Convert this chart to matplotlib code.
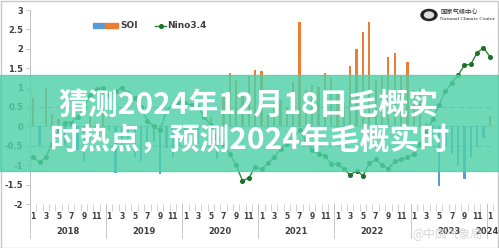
import numpy as np
import matplotlib
matplotlib.use("Agg")
import matplotlib.pyplot as plt
from matplotlib.patches import Rectangle, Ellipse
from matplotlib.lines import Line2D

plt.rcParams['font.family'] = ['Noto Sans CJK SC', 'DejaVu Sans']

years = [2018, 2019, 2020, 2021, 2022, 2023, 2024]
month_labels = ["1", "", "3", "", "5", "", "7", "", "9", "", "11", ""]

# monthly SOI, 2018-01 .. 2024-01
soi = [
    0.72, -0.50, 0.98, 0.33, 0.20, -0.50, 0.15, -0.60, -0.90, 0.25, -0.10, 0.85,
    -0.10, -1.20, -0.60, -0.40, -0.80, -0.90, -0.50, -0.40, -1.22, -0.55, -0.80, -0.50,
    -0.15, -0.20, -0.45, 0.05, 0.25, -0.85, 0.85, 1.38, 1.19, 0.85, 1.30, 1.45,
    1.42, 0.30, 0.60, 0.67, 0.47, 1.15, 2.68, 0.93, 1.06, 1.02, 1.37, 1.24,
    0.88, 0.60, 1.55, 2.00, 2.43, 2.70, 1.19, 1.30, 1.78, 1.90, 1.30, 1.65,
    0.95, 1.00, 0.10, -0.20, -1.53, -0.54, -0.70, -1.00, -1.35, -0.80, -0.50, -0.30,
    0.28,
]

# monthly Nino3.4 index
nino34 = [
    -0.78, -0.93, -0.78, -0.45, -0.10, 0.10, 0.10, 0.25, 0.50, 0.80, 0.97, 1.00,
    0.80, 0.90, 1.00, 0.85, 0.72, 0.50, 0.15, 0.00, -0.10, 0.40, 0.55, 0.60,
    0.60, 0.55, 0.50, 0.24, 0.03, -0.30, -0.45, -0.70, -1.00, -1.40, -1.33, -1.05,
    -1.10, -0.95, -0.80, -0.58, -0.45, -0.30, -0.10, -0.35, -0.62, -0.70, -0.75, -0.97,
    -0.97, -1.10, -1.25, -1.14, -1.27, -0.95, -0.85, -1.00, -1.09, -0.90, -0.85, -0.80,
    -0.70, -0.45, -0.15, 0.20, 0.55, 0.91, 1.12, 1.32, 1.58, 1.60, 1.90, 2.03,
    1.80,
]

n = len(soi)
x = np.arange(n)
W, H = 499, 248

fig = plt.figure(figsize=(W / 100, H / 100), dpi=100)
fig.patch.set_facecolor("white")
ax = fig.add_axes([30 / W, 1 - 204 / H, 463 / W, 194 / H])

bar_colors = ["#ed7d31" if v >= 0 else "#5b9bd5" for v in soi]
ax.bar(x, soi, width=0.36, color=bar_colors, zorder=2)
ax.plot(x, nino34, color="#2a8a37", lw=1.0, marker="o", ms=2.6,
        mfc="#1f6e2a", mec="#1f6e2a", zorder=3)

ax.axhline(0, color="#bfbfbf", lw=0.7, zorder=1)
for lvl in (0.5, -0.5):
    ax.axhline(lvl, color="#a6a6a6", lw=0.7, ls=(0, (5, 4)), zorder=1)

ax.set_xlim(-0.5, n - 0.5)
ax.set_ylim(-2, 3)
yt = np.arange(-2, 3.01, 0.5)
ax.set_yticks(yt)
ax.set_yticklabels([f"{v:g}" for v in yt], fontsize=6, color="#404040",
                   fontweight="bold", family="DejaVu Sans")
ax.tick_params(axis="y", length=3, width=0.6, color="#bfbfbf", pad=2)

for s in ("top", "right", "bottom"):
    ax.spines[s].set_visible(False)
ax.spines["left"].set_color("#bfbfbf")
ax.spines["left"].set_linewidth(0.7)

# month ticks and labels (two-level category axis)
ax.set_xticks(np.arange(-0.5, n, 1), minor=True)
ax.tick_params(axis="x", which="minor", length=5, width=0.5, color="#c0c0c0")
ax.set_xticks(x)
ax.set_xticklabels([month_labels[i % 12] for i in x], fontsize=5.5,
                   color="#404040", fontweight="bold", family="DejaVu Sans")
ax.tick_params(axis="x", which="major", length=0, pad=6)

ax_h = 194
for k, yr in enumerate(years):
    xb = -0.5 + 12 * k
    ax.axvline(xb, ymin=-34 / ax_h, ymax=0, color="#bfbfbf", lw=0.6, clip_on=False)
    xc = xb + 6 if yr != 2024 else 71.6
    ax.text(xc, -2.72, str(yr), ha="center", va="center", fontsize=6,
            fontweight="bold", color="#404040", family="DejaVu Sans")

# legend
fig.add_artist(Rectangle((93 / W, 1 - 28 / H), 12 / W, 5 / H, color="#5b9bd5"))
fig.add_artist(Rectangle((105 / W, 1 - 28 / H), 13 / W, 5 / H, color="#ed7d31"))
fig.text(120 / W, 1 - 25.5 / H, "SOI", fontsize=6.5, color="#404040",
         va="center", family="DejaVu Sans", fontweight="bold")
fig.add_artist(Line2D([155 / W, 166 / W], [1 - 25.5 / H] * 2, color="#2a8a37", lw=1.0))
fig.add_artist(Line2D([160.5 / W], [1 - 25.5 / H], marker="o", ms=2.6, color="#1f6e2a"))
fig.text(167 / W, 1 - 25.5 / H, "Nino3.4", fontsize=6.5, color="#404040",
         va="center", family="DejaVu Sans", fontweight="bold")

# logo
fig.add_artist(Ellipse((429 / W, 1 - 15 / H), 16 / W, 11 / H, color="#222222"))
fig.add_artist(Ellipse((429 / W, 1 - 15 / H), 9 / W, 6 / H, color="#dddddd"))
fig.text(440 / W, 1 - 11.5 / H, "国家气候中心", fontsize=4.5, color="#222222", va="center")
fig.text(440 / W, 1 - 19.5 / H, "National Climate Center", fontsize=3.2,
         color="#222222", va="center", family="DejaVu Serif")

# translucent banner with headline
fig.add_artist(Rectangle((0, 1 - 171 / H), 1, 96 / H, color="#4fd0a8", alpha=0.82, zorder=5))
fig.text(58 / W, 1 - 105 / H, "猜测2024年12月18日毛概实", fontsize=21.5, color="white",
         fontweight="bold", va="center", zorder=6)
fig.text(50 / W, 1 - 140 / H, "时热点，预测2024年毛概实时", fontsize=21.5, color="white",
         fontweight="bold", va="center", zorder=6)

# watermark
fig.text(412 / W, 1 - 234 / H, "@中国气象局", fontsize=8.5, color="#d0d0d0",
         va="center", alpha=0.85, zorder=6)

# outer frame
fig.add_artist(Rectangle((0.5 / W, 0.5 / H), (W - 1.5) / W, (H - 1.5) / H,
                         fill=False, ec="#c8c8c8", lw=1.0))

fig.savefig("out.png", dpi=100)
